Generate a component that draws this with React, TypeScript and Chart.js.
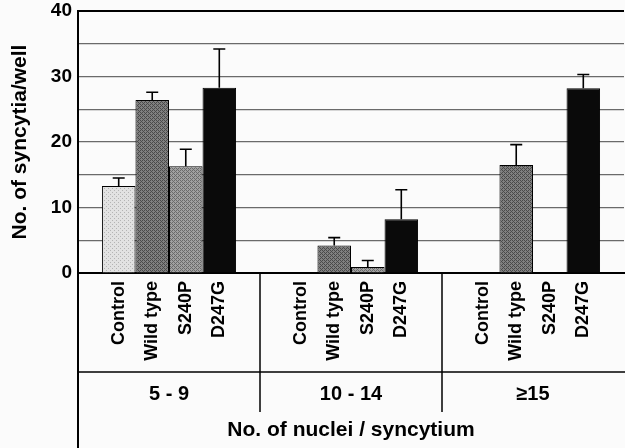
import React, { useEffect, useRef } from "react";
import { Chart, registerables } from "chart.js";

Chart.register(...registerables);

const groups = ["5 - 9", "10 - 14", "≥15"];
const seriesNames = ["Control", "Wild type", "S240P", "D247G"];
const controlVals = [13.3, 0, 0];
const wildVals = [26.4, 4.2, 16.5];
const s240pVals = [16.3, 0.9, 0];
const d247gVals = [28.3, 8.2, 28.2];
const controlErr = [14.5, null, null];
const wildErr = [27.6, 5.4, 19.6];
const s240pErr = [18.9, 1.9, null];
const d247gErr = [34.2, 12.7, 30.3];
const yTicks = [0, 10, 20, 30, 40];

const FONT = "'Liberation Sans', Arial, sans-serif";

function makePattern(base: string, dot: string, kind: number) {
  const c = document.createElement("canvas");
  c.width = 4;
  c.height = 4;
  const g = c.getContext("2d")!;
  g.fillStyle = base;
  g.fillRect(0, 0, 4, 4);
  g.fillStyle = dot;
  if (kind === 0) {
    g.fillRect(0, 0, 1, 1);
    g.fillRect(2, 2, 1, 1);
  } else {
    g.fillRect(0, 0, 1, 1);
    g.fillRect(1, 1, 1, 1);
    g.fillRect(2, 2, 1, 1);
    g.fillRect(3, 3, 1, 1);
    g.fillRect(2, 0, 1, 1);
    g.fillRect(0, 2, 1, 1);
  }
  return g.createPattern(c, "repeat")!;
}

export default function App() {
  const ref = useRef<HTMLCanvasElement>(null);
  useEffect(() => {
    const errs = [controlErr, wildErr, s240pErr, d247gErr];
    const fills = [
      makePattern("#e2e2e2", "#b4b4b4", 0),
      makePattern("#808080", "#4a4a4a", 1),
      makePattern("#a0a0a0", "#6a6a6a", 1),
      "#0a0a0a",
    ];
    const vals = [controlVals, wildVals, s240pVals, d247gVals];
    const extras = {
      id: "extras",
      beforeDraw(chart: any) {
        const { ctx } = chart;
        ctx.save();
        ctx.fillStyle = "#fbfbfb";
        ctx.fillRect(0, 0, chart.width, chart.height);
        ctx.restore();
      },
      afterDatasetsDraw(chart: any) {
        const { ctx } = chart;
        const y = chart.scales.y;
        ctx.save();
        ctx.strokeStyle = "#000";
        ctx.lineWidth = 1.6;
        errs.forEach((arr, di) => {
          const meta = chart.getDatasetMeta(di);
          arr.forEach((e, j) => {
            if (e == null) return;
            const bar = meta.data[j];
            const x = bar.x;
            const top = y.getPixelForValue(e);
            const bt = y.getPixelForValue(vals[di][j]);
            ctx.beginPath();
            ctx.moveTo(x, bt);
            ctx.lineTo(x, top);
            ctx.moveTo(x - 6, top);
            ctx.lineTo(x + 6, top);
            ctx.stroke();
          });
        });
        ctx.restore();
      },
      afterDraw(chart: any) {
        const { ctx, chartArea } = chart;
        const xs = chart.scales.x;
        const ys = chart.scales.y;
        const base = ys.getPixelForValue(0);
        ctx.save();
        ctx.strokeStyle = "#000";
        ctx.lineWidth = 2;
        ctx.beginPath();
        ctx.moveTo(chartArea.left, base);
        ctx.lineTo(chartArea.left, chart.height);
        ctx.stroke();
        ctx.lineWidth = 1.5;
        ctx.beginPath();
        ctx.moveTo(chartArea.left, 372);
        ctx.lineTo(chart.width, 372);
        ctx.stroke();
        for (let i = 0; i < groups.length - 1; i++) {
          const bx = (xs.getPixelForValue(i) + xs.getPixelForValue(i + 1)) / 2;
          ctx.beginPath();
          ctx.moveTo(bx, base);
          ctx.lineTo(bx, 412);
          ctx.stroke();
        }
        ctx.fillStyle = "#000";
        ctx.font = `bold 18px ${FONT}`;
        ctx.textAlign = "right";
        ctx.textBaseline = "middle";
        seriesNames.forEach((name, di) => {
          const meta = chart.getDatasetMeta(di);
          meta.data.forEach((bar: any) => {
            ctx.save();
            ctx.translate(bar.x, base + 8);
            ctx.rotate(-Math.PI / 2);
            ctx.fillText(name, 0, 0);
            ctx.restore();
          });
        });
        ctx.restore();
      },
    };
    const chart = new Chart(ref.current!, {
      type: "bar",
      data: {
        labels: groups,
        datasets: seriesNames.map((n, i) => ({
          label: n,
          data: vals[i],
          backgroundColor: fills[i] as any,
          borderColor: "#000",
          borderWidth: 1,
          barPercentage: 1,
          categoryPercentage: 0.737,
        })),
      },
      options: {
        animation: false,
        responsive: false,
        maintainAspectRatio: false,
        events: [],
        layout: { padding: { top: 11, right: 1, left: 0, bottom: 0 } },
        plugins: { legend: { display: false }, tooltip: { enabled: false } },
        scales: {
          x: {
            grid: { display: false },
            border: { display: true, color: "#000", width: 2 },
            ticks: {
              color: "#000",
              font: { family: FONT, size: 20, weight: "bold" },
              padding: 101,
              maxRotation: 0,
            },
            title: {
              display: true,
              text: "No. of nuclei / syncytium",
              color: "#000",
              font: { family: FONT, size: 21, weight: "bold" },
              padding: { top: 0, bottom: 5 },
            },
            afterFit(s: any) {
              s.height = 175;
              s.paddingLeft = 0;
              s.paddingRight = 0;
              s.paddingTop = 0;
              s.paddingBottom = 0;
            },
          },
          y: {
            min: 0,
            max: 40,
            grid: {
              drawTicks: false,
              color: (c: any) => (c.tick && c.tick.value === 40 ? "#000" : "#6a6a6a"),
              lineWidth: (c: any) => (c.tick && c.tick.value === 40 ? 2 : 1.2),
            },
            border: { display: true, color: "#000", width: 2 },
            ticks: {
              stepSize: 5,
              padding: 6,
              color: "#000",
              font: { family: FONT, size: 19, weight: "bold" },
              callback: (v: any) => (yTicks.includes(Number(v)) ? String(v) : ""),
            },
            title: {
              display: true,
              text: "No. of syncytia/well",
              color: "#000",
              font: { family: FONT, size: 21, weight: "bold" },
              padding: { top: 8, bottom: 0 },
            },
            afterFit(s: any) {
              s.width = 78;
              s.paddingTop = 0;
              s.paddingBottom = 0;
            },
          },
        },
      },
      plugins: [extras],
    });
    return () => chart.destroy();
  }, []);
  return (
    <div style={{ position: "fixed", left: 0, top: 0, width: 625, height: 448 }}>
      <canvas ref={ref} width={625} height={448} />
    </div>
  );
}
